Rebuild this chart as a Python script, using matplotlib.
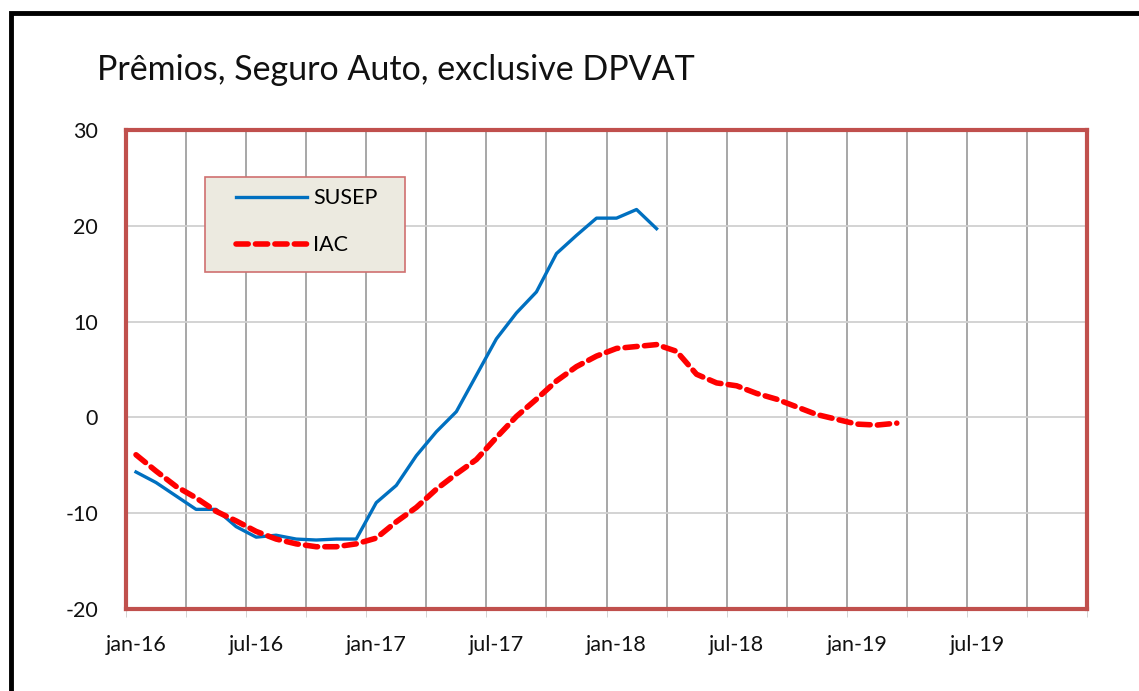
import numpy as np
import matplotlib.pyplot as plt
from matplotlib.patches import Rectangle

# dados mensais a partir de jan-16
susep = [-5.7, -6.8, -8.2, -9.6, -9.6, -11.4, -12.5, -12.3, -12.7, -12.8, -12.7, -12.7,
         -8.9, -7.1, -4.0, -1.5, 0.6, 4.4, 8.2, 10.9, 13.1, 17.1, 19.0, 20.8, 20.8, 21.7, 19.7]
iac = [-3.9, -5.6, -7.2, -8.4, -9.8, -10.8, -11.9, -12.7, -13.2, -13.5, -13.5, -13.2,
       -12.6, -10.9, -9.4, -7.5, -5.9, -4.4, -2.1, 0.1, 1.9, 3.8, 5.3, 6.4, 7.2, 7.4, 7.6,
       6.9, 4.5, 3.6, 3.3, 2.5, 1.9, 1.1, 0.3, -0.2, -0.7, -0.8, -0.6]
x_labels = ['jan-16', 'jul-16', 'jan-17', 'jul-17', 'jan-18', 'jul-18', 'jan-19', 'jul-19']
y_ticks = [-20, -10, 0, 10, 20, 30]

plt.rcParams['font.family'] = ['Lato', 'DejaVu Sans']
plt.rcParams['axes.unicode_minus'] = False

fig = plt.figure(figsize=(11.39, 6.91), dpi=100)
# moldura preta externa
fig.patches.append(Rectangle((11 / 1139, -0.1), 1.2, 1 - 13 / 691 + 0.1, transform=fig.transFigure,
                             fill=False, edgecolor='black', linewidth=3.5))
fig.text(97 / 1139, 1 - 70 / 691, 'Prêmios, Seguro Auto, exclusive DPVAT',
         fontsize=24.5, va='center', ha='left', color='#111111')

ax = fig.add_axes([126 / 1139, 1 - 609 / 691, 961 / 1139, 479 / 691])
xs = np.arange(len(susep)) + 0.5
xi = np.arange(len(iac)) + 0.5
ax.plot(xs, susep, color='#0070C0', linewidth=2.4, label='SUSEP', zorder=3)
ax.plot(xi, iac, color='#FF0000', linewidth=4, linestyle=(0, (2.2, 1.3)),
        dash_capstyle='round', label='IAC', zorder=3)

ax.set_xlim(0, 48)
ax.set_ylim(-20, 30)
ax.set_yticks(y_ticks)
ax.set_xticks(np.arange(0, 49, 3), minor=True)
ax.set_xticks(np.arange(len(x_labels)) * 6 + 0.5)
ax.set_xticklabels(x_labels)
ax.tick_params(axis='x', which='major', length=0, pad=19, labelsize=15.5)
ax.tick_params(axis='x', which='minor', length=6, color='#cccccc', direction='out')
ax.tick_params(axis='y', length=0, pad=20, labelsize=15.5)
for lbl in ax.get_xticklabels() + ax.get_yticklabels():
    lbl.set_color('#111111')

ax.grid(True, axis='x', which='minor', color='#a0a0a0', linewidth=1.3)
ax.grid(True, axis='y', which='major', color='#d0d0d0', linewidth=1.3)
ax.set_axisbelow(True)
for s in ax.spines.values():
    s.set_color('#C0504D')
    s.set_linewidth(3)

# caixa da legenda
ax.add_patch(Rectangle((0.082, 0.704), 0.208, 0.198, transform=ax.transAxes,
                       facecolor='#ECEAE0', edgecolor='#D07070', linewidth=1.2, zorder=4))
leg = ax.legend(loc='upper left', bbox_to_anchor=(0.114, 0.878), fontsize=15.5,
                handlelength=3.3, labelspacing=1.25, borderpad=0, borderaxespad=0,
                handletextpad=0.3, frameon=False)
leg.set_zorder(5)

fig.savefig('out.png', dpi=100)
